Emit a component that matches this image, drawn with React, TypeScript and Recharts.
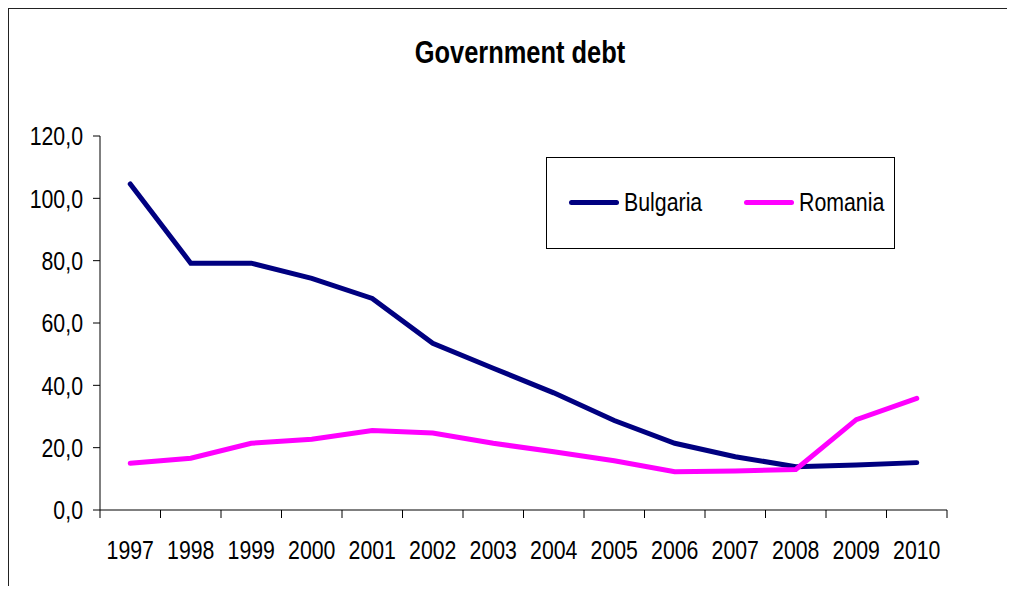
import { LineChart, Line, XAxis, YAxis } from "recharts"

const years = ["1997", "1998", "1999", "2000", "2001", "2002", "2003", "2004", "2005", "2006", "2007", "2008", "2009", "2010"]
const bulgaria = [104.6, 79.2, 79.2, 74.3, 67.9, 53.5, 45.5, 37.6, 28.7, 21.4, 17.1, 13.9, 14.4, 15.2]
const romania = [15.0, 16.6, 21.4, 22.7, 25.5, 24.7, 21.4, 18.7, 15.8, 12.3, 12.5, 13.0, 29.0, 35.8]
const yTicks = [0, 20, 40, 60, 80, 100, 120]

const seriesInfo = [
  { key: "bulgaria", name: "Bulgaria", color: "#000080" },
  { key: "romania", name: "Romania", color: "#FF00FF" },
]

const rows = years.map((year, i) => ({ idx: i, year, bulgaria: bulgaria[i], romania: romania[i] }))

// ticks sit between the categories, labels sit on them
const xTicks = years.flatMap((_, i) => [i - 0.5, i]).concat(years.length - 0.5)

const FONT = "'Liberation Sans', Arial, sans-serif"
const NARROW = 0.82 // squeeze to look like Arial Narrow

function XTick({ x, y, payload }: any) {
  const v = payload.value
  if (Number.isInteger(v)) {
    return (
      <text
        transform={`translate(${x},${y + 49}) scale(${NARROW},1)`}
        textAnchor="middle"
        fontFamily={FONT}
        fontSize={26}
        fill="#000"
      >
        {years[v]}
      </text>
    )
  }
  return <line x1={x} y1={y} x2={x} y2={y + 8} stroke="#000" strokeWidth={1} />
}

function YTick({ x, y, payload }: any) {
  return (
    <text
      transform={`translate(${x},${y}) scale(${NARROW},1)`}
      textAnchor="end"
      dy="0.36em"
      fontFamily={FONT}
      fontSize={26}
      fill="#000"
    >
      {payload.value.toFixed(1).replace(".", ",")}
    </text>
  )
}

const squeeze = { display: "inline-block", transform: `scale(${NARROW},1)`, transformOrigin: "left center" } as const

function LegendBox() {
  return (
    <div
      style={{
        position: "absolute",
        left: 537,
        top: 148,
        width: 349,
        height: 92,
        boxSizing: "border-box",
        border: "1px solid #000",
        background: "#fff",
        fontFamily: FONT,
        fontSize: 26,
      }}
    >
      {seriesInfo.map((s, i) => (
        <div
          key={s.key}
          style={{ position: "absolute", left: 22 + i * 175, top: 29, display: "flex", alignItems: "center", lineHeight: "30px", whiteSpace: "nowrap" }}
        >
          <span style={{ display: "inline-block", width: 50, height: 5, borderRadius: 3, background: s.color, marginRight: 5 }} />
          <span style={squeeze}>{s.name}</span>
        </div>
      ))}
    </div>
  )
}

export default function App() {
  return (
    // the chart frame runs past the right and bottom edges of the picture
    <div
      style={{
        position: "relative",
        width: 998,
        height: 577,
        borderTop: "1px solid #222",
        borderLeft: "1px solid #222",
        background: "#fff",
        fontFamily: FONT,
      }}
    >
      <div
        style={{
          position: "absolute",
          left: 511,
          top: 28,
          transform: `translateX(-50%) scale(${NARROW},1)`,
          fontSize: 31,
          fontWeight: "bold",
          lineHeight: "31px",
          whiteSpace: "nowrap",
          color: "#000",
        }}
      >
        Government debt
      </div>
      <LineChart width={998} height={577} data={rows} margin={{ top: 127, right: 60, left: 0, bottom: 26 }}>
        <XAxis
          dataKey="idx"
          type="number"
          domain={[-0.5, years.length - 0.5]}
          ticks={xTicks}
          interval={0}
          tick={<XTick />}
          tickLine={false}
          tickSize={0}
          tickMargin={0}
          axisLine={{ stroke: "#000" }}
          height={50}
        />
        <YAxis
          domain={[0, 120]}
          ticks={yTicks}
          interval={0}
          width={91}
          tickSize={7}
          tickMargin={10}
          tickLine={{ stroke: "#000" }}
          axisLine={{ stroke: "#000" }}
          tick={<YTick />}
        />
        {seriesInfo.map((s) => (
          <Line
            key={s.key}
            type="linear"
            dataKey={s.key}
            name={s.name}
            stroke={s.color}
            strokeWidth={5}
            strokeLinecap="round"
            dot={false}
            activeDot={false}
            isAnimationActive={false}
          />
        ))}
      </LineChart>
      <LegendBox />
    </div>
  )
}
